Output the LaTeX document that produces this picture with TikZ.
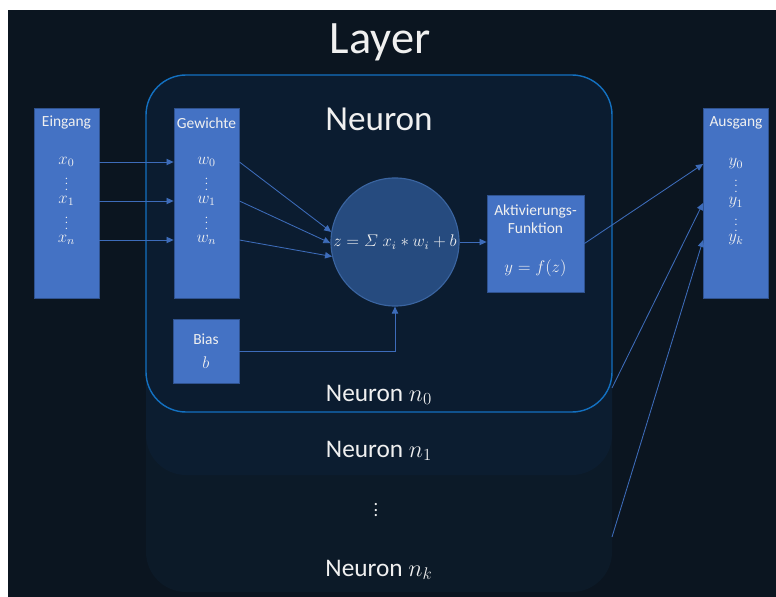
\documentclass[tikz,border=0pt]{standalone}
\usepackage{fontspec}
\setmainfont{Carlito}
\usepackage{amsmath}
\usepackage{tikz}
\usetikzlibrary{arrows.meta, positioning, calc}

\definecolor{bgdark}{HTML}{0B1520}
\definecolor{stackk}{HTML}{0C1A28}
\definecolor{stackone}{HTML}{0C1D30}
\definecolor{stackzero}{HTML}{0B1C30}
\definecolor{neuronline}{HTML}{1370C0}
\definecolor{boxblue}{HTML}{4472C4}
\definecolor{boxline}{HTML}{2F528F}
\definecolor{sumfill}{HTML}{264B7F}
\definecolor{sumline}{HTML}{3A64A0}
\definecolor{arrblue}{HTML}{3D6CBA}

\begin{document}
\begin{tikzpicture}[
    x=0.025cm, y=-0.025cm,
    every node/.style={text=white!94!black},
    blk/.style={draw=boxline, fill=boxblue, line width=0.6pt, inner sep=0pt},
    col/.style={blk, minimum width=1.625cm, minimum height=4.75cm},
    sumnode/.style={circle, draw=sumline, fill=sumfill, line width=0.8pt, minimum size=3.2cm, inner sep=0pt},
    blabel/.style={font=\fontsize{11}{13}\selectfont, inner sep=0pt},
    item/.style={font=\fontsize{11.5}{13}\selectfont, inner sep=0pt},
    dots/.style={font=\fontsize{8}{9}\selectfont, inner sep=0pt},
    arr/.style={-{Triangle[length=5pt,width=4.5pt]}, arrblue, line width=0.6pt},
    stacklabel/.style={font=\fontsize{18}{20}\selectfont, inner sep=0pt},
]

\useasboundingbox (0,0) rectangle (776,597);
\fill[bgdark] (8,10) rectangle (776,597);

% ── Neuron stack ──
\fill[stackk, rounded corners=1cm] (146,75) rectangle (612,592);
\fill[stackone, rounded corners=1cm] (146,75) rectangle (612,475);
\filldraw[fill=stackzero, draw=neuronline, line width=1pt, rounded corners=1cm] (146,75) rectangle (612,412);

\node[font=\fontsize{33}{36}\selectfont, inner sep=0pt] (layer) at (380,42) {Layer};
\node[font=\fontsize{25}{28}\selectfont, inner sep=0pt] (neuron) at (379,119) {Neuron};

\node[stacklabel] (nzero) at (379,395) {Neuron $n_0$};
\node[stacklabel] (none) at (379,451) {Neuron $n_1$};
\node[dots, font=\fontsize{13}{14}\selectfont] (ndots) at (376,506) {$\vdots$};
\node[stacklabel] (nk) at (379,570) {Neuron $n_k$};

% ── Columns ──
\node[col] (eingang) at (66.5,203) {};
\node[col] (gewichte) at (206.5,203) {};
\node[col] (ausgang) at (736,203) {};

\node[blabel] at (66.5,123) {Eingang};
\node[item] (x0) at (66.5,162) {$x_0$};
\node[dots] at (66.5,180) {$\vdots$};
\node[item] (x1) at (66.5,201) {$x_1$};
\node[dots] at (66.5,219) {$\vdots$};
\node[item] (xn) at (66.5,240) {$x_n$};

\node[blabel] at (206.5,123) {Gewichte};
\node[item] (w0) at (206.5,162) {$w_0$};
\node[dots] at (206.5,180) {$\vdots$};
\node[item] (w1) at (206.5,201) {$w_1$};
\node[dots] at (206.5,219) {$\vdots$};
\node[item] (wn) at (206.5,240) {$w_n$};

\node[blabel] at (736,123) {Ausgang};
\node[item] (y0) at (736,164) {$y_0$};
\node[dots] at (736,182) {$\vdots$};
\node[item] (y1) at (736,203) {$y_1$};
\node[dots] at (736,221) {$\vdots$};
\node[item] (yk) at (736,240) {$y_k$};

% ── Neuron parts ──
\node[blk, minimum width=1.65cm, minimum height=1.6cm] (bias) at (206,351) {};
\node[blabel] at (206,339) {Bias};
\node[item] at (206,363) {$b$};

\node[sumnode] (sum) at (395,242) {};
\node[item] at (sum.center) {$z = \varSigma\; x_i * w_i + b$};

\node[blk, minimum width=2.425cm, minimum height=2.425cm] (act) at (535.5,243.5) {};
\node[blabel, align=center] at (535.5,219) {Aktivierungs-\\Funktion};
\node[item] at (535.5,268) {$y = f(z)$};

\coordinate (noneout) at (612,388);
\coordinate (nkout) at (612,537);

% ── Arrows ──
\draw[arr] (eingang.east |- x0) -- (gewichte.west |- x0);
\draw[arr] (eingang.east |- x1) -- (gewichte.west |- x1);
\draw[arr] (eingang.east |- xn) -- (gewichte.west |- xn);
\draw[arr] (gewichte.east |- w0) -- (sum.171);
\draw[arr] (gewichte.east |- w1) -- (sum.181);
\draw[arr] (gewichte.east |- wn) -- (sum.193);
\draw[arr] (bias.east) -| (sum.south);
\draw[arr] (sum.east) -- (sum.east -| act.west);
\draw[arr] (act.east) -- (ausgang.west |- y0);
\draw[arr] (noneout) -- (ausgang.west |- y1);
\draw[arr] (nkout) -- (ausgang.west |- yk);

\end{tikzpicture}
\end{document}
